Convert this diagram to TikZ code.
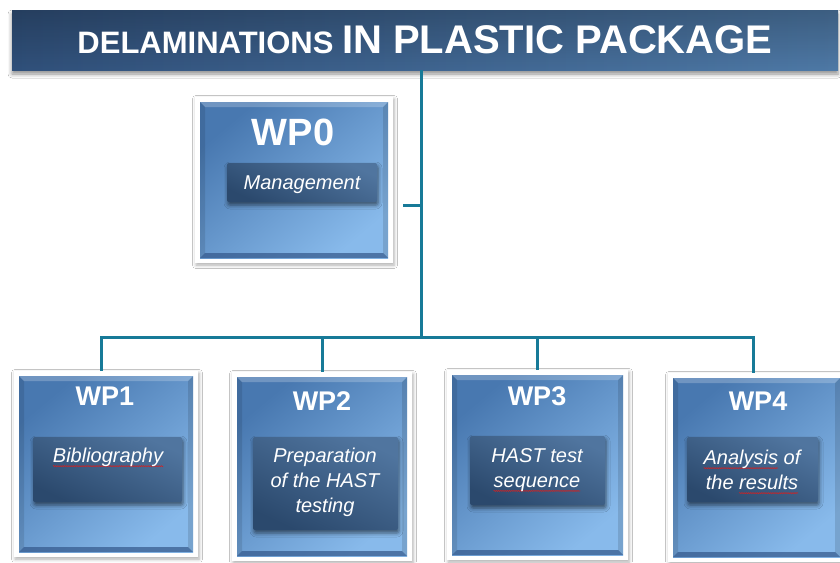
\documentclass[tikz,border=0pt]{standalone}
\usepackage{fontspec}
\setmainfont{Liberation Sans}
\usetikzlibrary{shadows.blur,fadings,calc,decorations.pathmorphing}

\definecolor{barleft}{HTML}{30507A}
\definecolor{barright}{HTML}{4E79A6}
\definecolor{bluedark}{HTML}{4878B0}
\definecolor{bluelight}{HTML}{88BAEB}
\definecolor{bevel}{HTML}{33578A}
\definecolor{desctop}{HTML}{50759F}
\definecolor{descbot}{HTML}{2B496D}
\definecolor{connc}{HTML}{177A98}
\definecolor{spellred}{HTML}{D42020}

% red wavy spell-check underline
\newsavebox\wavebox
\newcommand\spellwave[1]{%
  \sbox\wavebox{#1}%
  \tikz[overlay, baseline=0pt, x=1pt, y=1pt]
    \draw[spellred, line width=0.5pt, decorate,
          decoration={zigzag, amplitude=0.6pt, segment length=2.2pt}]
      (0pt,-3.5pt) -- (\the\wd\wavebox,-3.5pt);%
  \usebox\wavebox}

\tikzset{
  titlebar/.style={inner sep=0pt, minimum width=826pt, minimum height=60pt,
    left color=barleft, right color=barright,
    blur shadow={shadow xshift=0pt, shadow yshift=-4pt, shadow blur radius=4pt, shadow opacity=45},
    path picture={
      \fill[black, opacity=.22, path fading=south]
        (path picture bounding box.north west) rectangle (path picture bounding box.south east);
    }},
  titletext/.style={anchor=base, text=white, font=\bfseries, inner sep=0pt},
  wpframe/.style={fill=white, inner sep=0pt,
    blur shadow={shadow xshift=1pt, shadow yshift=-2pt, shadow blur radius=3.5pt, shadow opacity=32}},
  wpblue/.style={inner sep=0pt, top color=bluedark, bottom color=bluelight, shading angle=40,
    path picture={
      \fill[white, opacity=.22]
        (path picture bounding box.north west) -- (path picture bounding box.north east)
        -- ([xshift=-5pt,yshift=-5pt]path picture bounding box.north east)
        -- ([xshift=5pt,yshift=-5pt]path picture bounding box.north west) -- cycle;
      \fill[bevel, opacity=.7]
        (path picture bounding box.south west) -- (path picture bounding box.south east)
        -- ([xshift=-5pt,yshift=5pt]path picture bounding box.south east)
        -- ([xshift=5pt,yshift=5pt]path picture bounding box.south west) -- cycle;
      \fill[black, opacity=.10]
        (path picture bounding box.north west) -- (path picture bounding box.south west)
        -- ([xshift=5pt,yshift=5pt]path picture bounding box.south west)
        -- ([xshift=5pt,yshift=-5pt]path picture bounding box.north west) -- cycle;
      \fill[black, opacity=.12]
        (path picture bounding box.north east) -- (path picture bounding box.south east)
        -- ([xshift=-5pt,yshift=5pt]path picture bounding box.south east)
        -- ([xshift=-5pt,yshift=-5pt]path picture bounding box.north east) -- cycle;
    }},
  wptitle/.style={anchor=base, text=white, inner sep=0pt, font=\bfseries\fontsize{27}{27}\selectfont},
  descbox/.style={inner sep=0pt, rounded corners=2pt,
    top color=desctop, bottom color=descbot, shading angle=-25,
    blur shadow={shadow xshift=1pt, shadow yshift=-3pt, shadow blur radius=4pt, shadow opacity=55}},
  desctext/.style={text=white, inner sep=0pt, align=center,
    font=\itshape\fontsize{20}{25}\selectfont},
  conn/.style={draw=connc, line width=3pt},
}

\newcommand\wpunit[5]{%
  \node[wpframe, minimum width=#4pt, minimum height=#5pt] (#1frame) at (#2,#3) {};
  \node[wpblue, minimum width={#4pt-10pt}, minimum height={#5pt-10pt}] (#1) at (#2,#3) {};
}

\begin{document}
\begin{tikzpicture}[x=1pt,y=-1pt]
  \clip (0,0) rectangle (840,562);
  \fill[white] (0,0) rectangle (840,562);

  % heading bar
  \node[titlebar] (title) at (425,40) {};
  \node[titletext] (heading) at (425,53)
    {{\fontsize{31}{31}\selectfont DELAMINATIONS }{\fontsize{40}{40}\selectfont IN PLASTIC PACKAGE}};

  % work packages
  \wpunit{wp0}{294}{180}{198}{166}
  \wpunit{wp1}{106}{464}{184}{186}
  \wpunit{wp2}{322}{466.5}{180}{189}
  \wpunit{wp3}{537.5}{465}{181}{190}
  \wpunit{wp4}{756.5}{467.5}{177}{189}

  \node[wptitle, font=\bfseries\fontsize{38}{38}\selectfont] (wp0title) at (293,145) {WP0};
  \node[wptitle] (wp1title) at (105,405) {WP1};
  \node[wptitle] (wp2title) at (322,410) {WP2};
  \node[wptitle] (wp3title) at (537,405) {WP3};
  \node[wptitle] (wp4title) at (758,410) {WP4};

  \node[descbox, minimum width=150pt, minimum height=39pt] (wp0desc) at (302,182.5) {};
  \node[descbox, minimum width=149pt, minimum height=65pt] (wp1desc) at (107.5,469.5) {};
  \node[descbox, minimum width=145pt, minimum height=93pt] (wp2desc) at (325.5,483.5) {};
  \node[descbox, minimum width=135pt, minimum height=69pt] (wp3desc) at (537.5,470.5) {};
  \node[descbox, minimum width=131pt, minimum height=65pt] (wp4desc) at (752.5,469.5) {};

  \node[desctext] (wp0text) at (302,184.5) {Management};
  \node[desctext] (wp1text) at (108,457.5) {\spellwave{Bibliography}};
  \node[desctext] (wp2text) at (325,482.5) {Preparation\\of the HAST\\testing};
  \node[desctext] (wp3text) at (537,470) {HAST test\\\spellwave{sequence}};
  \node[desctext] (wp4text) at (752,470) {\spellwave{Analysis} of\\the \spellwave{results}};

  % connectors
  \coordinate (trunk) at (421,337);
  \coordinate (branch) at (403,205);
  \coordinate (d1) at (101,337);
  \coordinate (d2) at (322,337);
  \coordinate (d3) at (537,337);
  \coordinate (d4) at (753,337);
  \draw[conn] (title.south -| trunk) -- (trunk);
  \draw[conn] (branch) -- (branch -| trunk);
  \draw[conn] (wp1frame.north -| d1) -- (d1) -- (d4) -- (wp4frame.north -| d4);
  \draw[conn] (d2) -- (wp2frame.north -| d2);
  \draw[conn] (d3) -- (wp3frame.north -| d3);
\end{tikzpicture}
\end{document}
